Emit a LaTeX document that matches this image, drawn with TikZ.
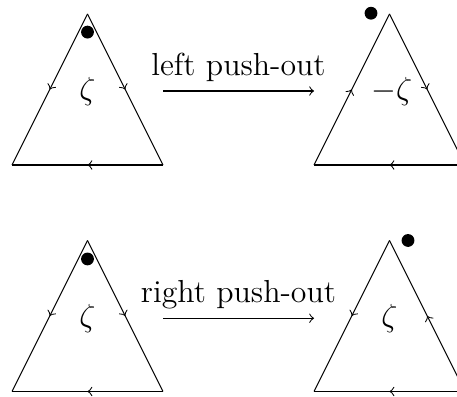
\documentclass[tikz,border=0pt]{standalone}
\usetikzlibrary{decorations.markings}
\tikzset{
  midarrow/.style={postaction={decorate},decoration={markings,mark=at position 0.5 with {\arrow{to}}}},
  blackdot/.style={circle,fill=black,inner sep=0pt,minimum size=0.17cm},
  pushlabel/.style={font=\large},
  lbl/.style={font=\large},
}
\begin{document}
\begin{tikzpicture}
\useasboundingbox (-0.159,-3.073) rectangle (5.894,2.185);
% top row
\coordinate (a1) at (0,0); \coordinate (b1) at (2,0); \coordinate (c1) at (1,2);
\coordinate (a2) at (4,0); \coordinate (b2) at (6,0); \coordinate (c2) at (5,2);
% bottom row
\coordinate (a3) at (0,-3); \coordinate (b3) at (2,-3); \coordinate (c3) at (1,-1);
\coordinate (a4) at (4,-3); \coordinate (b4) at (6,-3); \coordinate (c4) at (5,-1);

\draw[midarrow] (c1) -- (a1);
\draw[midarrow] (c1) -- (b1);
\draw[midarrow] (b1) -- (a1);
\draw[midarrow] (a2) -- (c2);
\draw[midarrow] (c2) -- (b2);
\draw[midarrow] (b2) -- (a2);
\draw[midarrow] (c3) -- (a3);
\draw[midarrow] (c3) -- (b3);
\draw[midarrow] (b3) -- (a3);
\draw[midarrow] (c4) -- (a4);
\draw[midarrow] (b4) -- (c4);
\draw[midarrow] (b4) -- (a4);

\node[blackdot] (d1) at (1,1.76) {};
\node[blackdot] (d2) at (4.755,2.01) {};
\node[blackdot] (d3) at (1,-1.245) {};
\node[blackdot] (d4) at (5.245,-1.0) {};

\node[lbl] (z1) at (1,0.97) {$\zeta$};
\node[lbl] (z2) at (5.03,0.97) {$-\zeta$};
\node[lbl] (z3) at (1,-2.03) {$\zeta$};
\node[lbl] (z4) at (5,-2.03) {$\zeta$};

\coordinate (l1) at (2,0.98); \coordinate (r1) at (4,0.98);
\coordinate (l2) at (2,-2.03); \coordinate (r2) at (4,-2.03);
\draw[->] (l1) -- node[above,pushlabel] (t1) {left push-out} (r1);
\draw[->] (l2) -- node[above,pushlabel] (t2) {right push-out} (r2);
\end{tikzpicture}
\end{document}
